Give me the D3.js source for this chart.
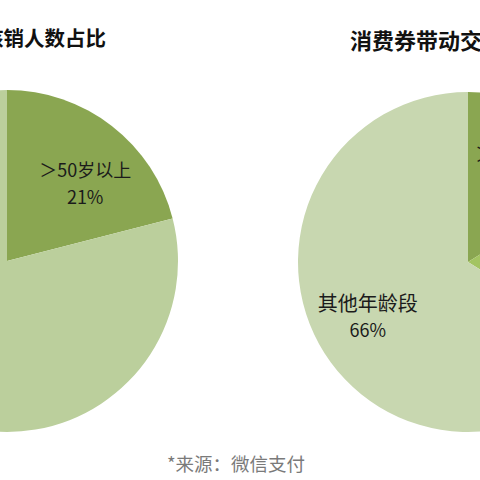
<!DOCTYPE html>
<html>
<head>
<meta charset="utf-8">
<script src="https://cdn.jsdelivr.net/npm/d3@7"></script>
<style>
  html, body { margin: 0; padding: 0; background: #fff; overflow: hidden; }
  svg { display: block; }
</style>
</head>
<body>
<svg id="chart" width="480" height="480"></svg>
<script>
// ---- data ----
const leftTitle = "消费券核销人数占比";
const leftCategories = ["＞50岁以上", "其他年龄段"];
const leftValues = [21, 79];

const rightTitle = "消费券带动交易金额占比";
const rightCategories = ["＞50岁以上", "", "其他年龄段"];
const rightValues = [16, 18, 66];

const sourceText = "*来源：微信支付";

// ---- layout / style ----
const W = 480, H = 480;
const svg = d3.select("#chart");
const font = "'Noto Sans CJK SC', 'Microsoft YaHei', sans-serif";

const pies = [
  { title: leftTitle, cats: leftCategories, vals: leftValues,
    cx: 7, cy: 261, r: 171,
    colors: ["#8AA651", "#BBCF9C"],
    titleX: 106, titleY: 46, titleAnchor: "end", titleSize: 20.5,
    nameSize: 18, pctSize: 18, labelNudge: [[9, 11], [0, 0]] },
  { title: rightTitle, cats: rightCategories, vals: rightValues,
    cx: 468, cy: 262, r: 170,
    colors: ["#8AA651", "#A3C462", "#C8D7B0"],
    titleX: 350, titleY: 49, titleAnchor: "start", titleSize: 22,
    nameSize: 20, pctSize: 18, labelNudge: [[4, 4], [0, 0], [-2, 1]] }
];

pies.forEach(p => {
  const g = svg.append("g").attr("transform", `translate(${p.cx},${p.cy})`);
  const pie = d3.pie().sort(null).startAngle(0).endAngle(2 * Math.PI);
  const arcs = pie(p.vals);
  const arc = d3.arc().innerRadius(0).outerRadius(p.r);
  const labelArc = d3.arc().innerRadius(p.r * 0.66).outerRadius(p.r * 0.66);
  const total = d3.sum(p.vals);

  g.selectAll("path")
    .data(arcs)
    .join("path")
    .attr("d", arc)
    .attr("fill", (d, i) => p.colors[i]);

  arcs.forEach((d, i) => {
    if (!p.cats[i]) return;
    const [x, y] = labelArc.centroid(d);
    const [nx, ny] = p.labelNudge[i];
    const ax = p.cx + x + nx;
    // skip labels that would lie entirely outside the picture (as in the cropped reference)
    if (ax + 50 < 0 || ax - 50 > W) return;
    const t = g.append("text")
      .attr("x", x + nx)
      .attr("y", y + ny)
      .attr("text-anchor", "middle")
      .attr("font-family", font)
      .attr("fill", "#1b1b1b");
    t.append("tspan")
      .attr("x", x + nx)
      .attr("dy", "-0.3em")
      .attr("font-size", p.nameSize)
      .text(p.cats[i]);
    t.append("tspan")
      .attr("x", x + nx)
      .attr("dy", "1.45em")
      .attr("font-size", p.pctSize)
      .text(Math.round(d.data / total * 100) + "%");
  });

  svg.append("text")
    .attr("x", p.titleX)
    .attr("y", p.titleY)
    .attr("text-anchor", p.titleAnchor)
    .attr("font-family", font)
    .attr("font-weight", "bold")
    .attr("font-size", p.titleSize)
    .attr("fill", "#111")
    .text(p.title);
});

svg.append("text")
  .attr("x", 236)
  .attr("y", 471)
  .attr("text-anchor", "middle")
  .attr("font-family", font)
  .attr("font-size", 18.5)
  .attr("fill", "#7a7a7a")
  .text(sourceText);
</script>
</body>
</html>
